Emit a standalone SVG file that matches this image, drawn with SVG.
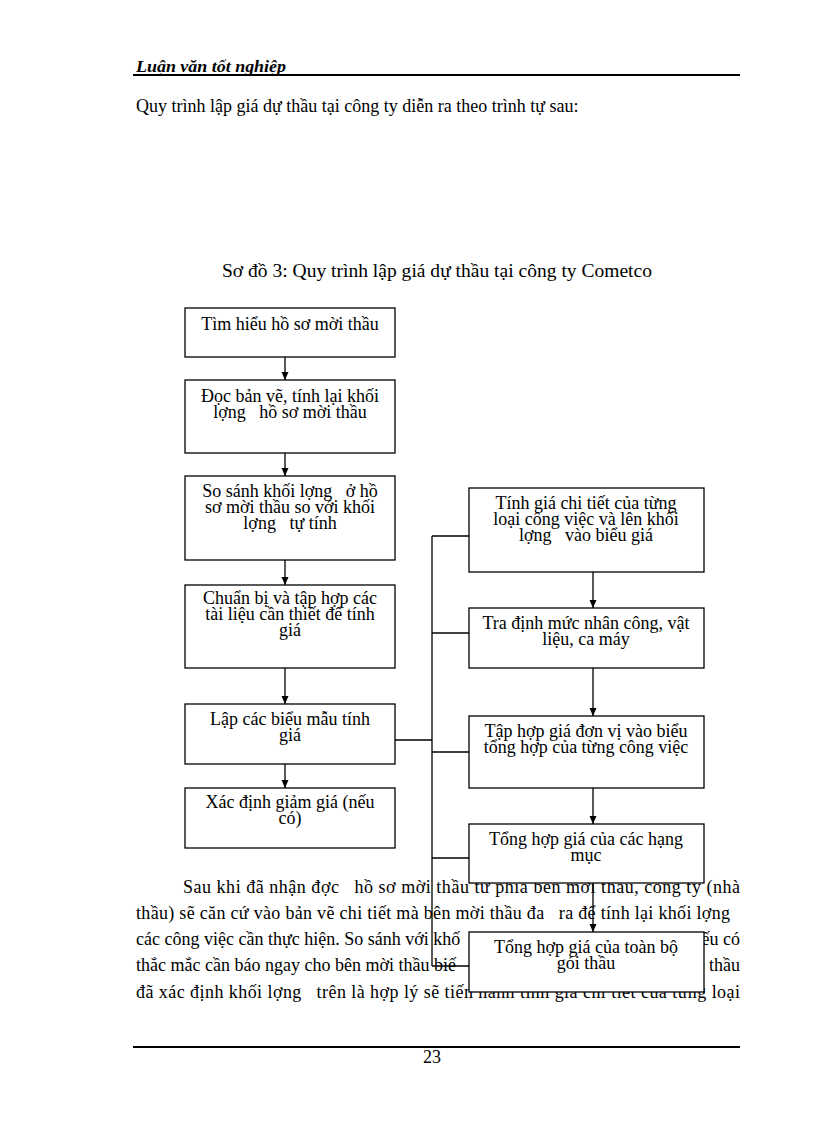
<svg xmlns="http://www.w3.org/2000/svg" width="816" height="1123" viewBox="0 0 816 1123">
<style>
  .bg{fill:#ffffff}
  text{white-space:pre}
  .t{font-family:"Liberation Serif","Times New Roman",serif;font-size:18px;fill:#000}
  .bt{font-family:"Liberation Serif","Times New Roman",serif;font-size:18px;fill:#000;text-anchor:middle}
  .box{fill:#ffffff;stroke:#000;stroke-width:1.3}
  .ln{stroke:#000;stroke-width:1.3;fill:none}
  .rule{stroke:#000;stroke-width:2.2}
</style>
<defs>
  <marker id="ah" viewBox="0 0 8 8" markerWidth="8" markerHeight="8" refX="8" refY="4" orient="auto" markerUnits="userSpaceOnUse">
    <path d="M0,0.5 L8,4 L0,7.5 z" fill="#000"/>
  </marker>
</defs>
<rect class="bg" x="0" y="0" width="816" height="1123"/>

<g id="header">
  <text x="136" y="72" textLength="150" lengthAdjust="spacingAndGlyphs" style="font-family:'Liberation Serif',serif;font-size:16px;font-style:italic;font-weight:bold">Luận văn tốt nghiệp</text>
  <line class="rule" x1="133" y1="75" x2="740" y2="75"/>
</g>

<text class="t" x="136" y="112">Quy trình lập giá dự thầu tại công ty diễn ra theo trình tự sau:</text>
<text class="t" x="222" y="277" textLength="430" lengthAdjust="spacingAndGlyphs">Sơ đồ 3: Quy trình lập giá dự thầu tại công ty Cometco</text>

<g id="paragraph">
  <text class="t" x="183" y="893" textLength="557" lengthAdjust="spacing">Sau khi đã nhận đợc   hồ sơ mời thầu từ phía bên mời thầu, công ty (nhà</text>
  <text class="t" x="136" y="919" textLength="594" lengthAdjust="spacing">thầu) sẽ căn cứ vào bản vẽ chi tiết mà bên mời thầu đa   ra để tính lại khối lợng</text>
  <text class="t" x="136" y="945">các công việc cần thực hiện. So sánh với khố</text>
  <text class="t" x="740" y="945" text-anchor="end">ếu có</text>
  <text class="t" x="136" y="971">thắc mắc cần báo ngay cho bên mời thầu biế</text>
  <text class="t" x="740" y="971" text-anchor="end">thầu</text>
  <text class="t" x="136" y="998" textLength="604" lengthAdjust="spacing">đã xác định khối lợng   trên là hợp lý sẽ tiến hành tính giá chi tiết của từng loại</text>
</g>

<g id="connectors">
  <line class="ln" x1="285" y1="357" x2="285" y2="380" marker-end="url(#ah)"/>
  <line class="ln" x1="285" y1="453" x2="285" y2="476" marker-end="url(#ah)"/>
  <line class="ln" x1="285" y1="560" x2="285" y2="585" marker-end="url(#ah)"/>
  <line class="ln" x1="285" y1="668" x2="285" y2="704" marker-end="url(#ah)"/>
  <line class="ln" x1="285" y1="764" x2="285" y2="788" marker-end="url(#ah)"/>
  <line class="ln" x1="593" y1="572" x2="593" y2="608" marker-end="url(#ah)"/>
  <line class="ln" x1="593" y1="668" x2="593" y2="716" marker-end="url(#ah)"/>
  <line class="ln" x1="593" y1="788" x2="593" y2="824" marker-end="url(#ah)"/>
  <line class="ln" x1="593" y1="883" x2="593" y2="932" marker-end="url(#ah)"/>
  <line class="ln" x1="432" y1="536" x2="432" y2="966"/>
  <line class="ln" x1="395" y1="740" x2="432" y2="740"/>
  <line class="ln" x1="432" y1="536" x2="469" y2="536"/>
  <line class="ln" x1="432" y1="633" x2="469" y2="633"/>
  <line class="ln" x1="432" y1="752" x2="469" y2="752"/>
  <line class="ln" x1="432" y1="858" x2="469" y2="858"/>
  <line class="ln" x1="432" y1="966" x2="469" y2="966"/>
</g>

<g id="n1"><rect class="box" x="185" y="308" width="210" height="49"/>
  <text class="bt" x="290" y="330">Tìm hiểu hồ sơ mời thầu</text></g>
<g id="n2"><rect class="box" x="185" y="380" width="210" height="73"/>
  <text class="bt" x="290" y="402">Đọc bản vẽ, tính lại khối<tspan x="290" dy="16">lợng   hồ sơ mời thầu</tspan></text></g>
<g id="n3"><rect class="box" x="185" y="476" width="210" height="84"/>
  <text class="bt" x="290" y="497">So sánh khối lợng   ở hồ<tspan x="290" dy="16">sơ mời thầu so với khối</tspan><tspan x="290" dy="16">lợng   tự tính</tspan></text></g>
<g id="n4"><rect class="box" x="185" y="585" width="210" height="83"/>
  <text class="bt" x="290" y="604">Chuẩn bị và tập hợp các<tspan x="290" dy="16">tài liệu cần thiết để tính</tspan><tspan x="290" dy="16">giá</tspan></text></g>
<g id="n5"><rect class="box" x="185" y="704" width="210" height="60"/>
  <text class="bt" x="290" y="725">Lập các biểu mẫu tính<tspan x="290" dy="16">giá</tspan></text></g>
<g id="n6"><rect class="box" x="185" y="788" width="210" height="60"/>
  <text class="bt" x="290" y="808">Xác định giảm giá (nếu<tspan x="290" dy="16">có)</tspan></text></g>

<g id="r1"><rect class="box" x="469" y="488" width="235" height="84"/>
  <text class="bt" x="586" y="509">Tính giá chi tiết của từng<tspan x="586" dy="16">loại công việc và lên khối</tspan><tspan x="586" dy="16">lợng   vào biểu giá</tspan></text></g>
<g id="r2"><rect class="box" x="469" y="608" width="235" height="60"/>
  <text class="bt" x="586" y="629">Tra định mức nhân công, vật<tspan x="586" dy="16">liệu, ca máy</tspan></text></g>
<g id="r3"><rect class="box" x="469" y="716" width="235" height="72"/>
  <text class="bt" x="586" y="737">Tập hợp giá đơn vị vào biểu<tspan x="586" dy="16">tổng hợp của từng công việc</tspan></text></g>
<g id="r4"><rect class="box" x="469" y="824" width="235" height="59"/>
  <text class="bt" x="586" y="845">Tổng hợp giá của các hạng<tspan x="586" dy="16">mục</tspan></text></g>
<g id="r5"><rect class="box" x="469" y="932" width="235" height="60"/>
  <text class="bt" x="586" y="953">Tổng hợp giá của toàn bộ<tspan x="586" dy="16">gói thầu</tspan></text></g>

<g id="footer">
  <line class="rule" x1="133" y1="1047" x2="740" y2="1047"/>
  <text class="t" x="432" y="1063" text-anchor="middle">23</text>
</g>
</svg>
